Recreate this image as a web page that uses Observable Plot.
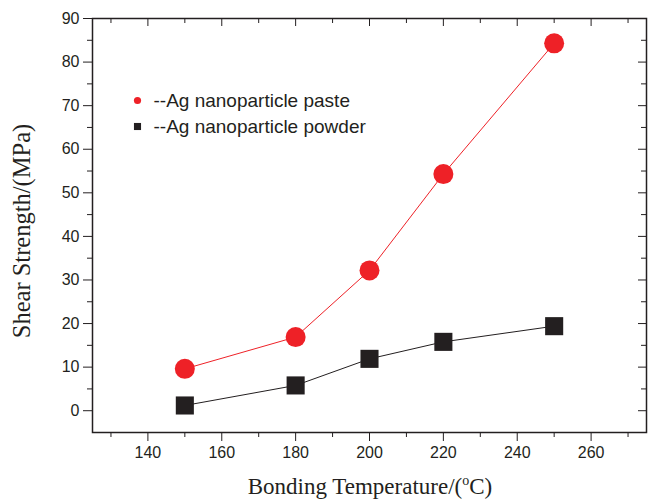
<!DOCTYPE html>
<html>
<head>
<meta charset="utf-8">
<script src="https://cdn.jsdelivr.net/npm/d3@7"></script>
<script src="https://cdn.jsdelivr.net/npm/@observablehq/plot@0.6"></script>
<style>
  html, body { margin: 0; padding: 0; background: #fff; }
  svg { display: block; }
</style>
</head>
<body>
<div id="chart"></div>
<script>
const temperatures = [150, 180, 200, 220, 250];
const pasteStrength = [9.6, 16.9, 32.2, 54.3, 84.3];
const powderStrength = [1.2, 5.8, 11.9, 15.8, 19.4];
const seriesNames = ["--Ag nanoparticle paste", "--Ag nanoparticle powder"];
const xMajorTicks = [140, 160, 180, 200, 220, 240, 260];
const xMinorTicks = [130, 150, 170, 190, 210, 230, 250, 270];
const yMajorTicks = [0, 10, 20, 30, 40, 50, 60, 70, 80, 90];
const yMinorTicks = [5, 15, 25, 35, 45, 55, 65, 75, 85];

const RED = "#ee2127";
const BLACK = "#231f20";
const W = 649, H = 499;
const mL = 92, mR = 3, mT = 18, mB = 67;
const plotW = W - mL - mR, plotH = H - mT - mB;

const paste = temperatures.map((t, i) => ({t, v: pasteStrength[i]}));
const powder = temperatures.map((t, i) => ({t, v: powderStrength[i]}));

const tickFont = {fontSize: 16, fontFamily: "Liberation Sans, Arial, sans-serif"};

const chart = Plot.plot({
  width: W, height: H,
  marginLeft: mL, marginRight: mR, marginTop: mT, marginBottom: mB,
  style: {background: "#fff", color: BLACK, fontFamily: "Liberation Sans, Arial, sans-serif"},
  x: {domain: [125, 275], axis: null},
  y: {domain: [-5, 90], axis: null},
  marks: [
    // bottom axis (outward)
    Plot.axisX({anchor: "bottom", ticks: xMajorTicks, tickSize: 9, tickPadding: 5, tickFormat: d => String(d), ...tickFont, stroke: BLACK, fill: BLACK, label: null}),
    Plot.axisX({anchor: "bottom", ticks: xMinorTicks, tickSize: 5, text: null, stroke: BLACK, label: null}),
    // left axis (outward)
    Plot.axisY({anchor: "left", ticks: yMajorTicks, tickSize: 9, tickPadding: 4, tickFormat: d => String(d), ...tickFont, stroke: BLACK, fill: BLACK, label: null}),
    Plot.axisY({anchor: "left", ticks: yMinorTicks, tickSize: 5, text: null, stroke: BLACK, label: null}),
    // top axis (inward)
    Plot.tickX(xMajorTicks, {x: d => d, insetBottom: plotH - 8, stroke: BLACK}),
    Plot.tickX(xMinorTicks, {x: d => d, insetBottom: plotH - 5, stroke: BLACK}),
    // right axis (inward)
    Plot.tickY(yMajorTicks, {y: d => d, insetLeft: plotW - 8, stroke: BLACK}),
    Plot.tickY(yMinorTicks, {y: d => d, insetLeft: plotW - 5, stroke: BLACK}),
    Plot.frame({stroke: BLACK, strokeWidth: 1.5}),
    // series
    Plot.line(paste, {x: "t", y: "v", stroke: RED, strokeWidth: 1}),
    Plot.line(powder, {x: "t", y: "v", stroke: BLACK, strokeWidth: 1}),
    Plot.dot(paste, {x: "t", y: "v", r: 10, fill: RED, stroke: null}),
    Plot.dot(powder, {x: "t", y: "v", r: 10.2, symbol: "square", fill: BLACK, stroke: null}),
    // legend
    Plot.dot([seriesNames[0]], {frameAnchor: "top-left", dx: 45, dy: 82, r: 3.6, fill: RED, stroke: null}),
    Plot.dot([seriesNames[1]], {frameAnchor: "top-left", dx: 45, dy: 108, r: 4, symbol: "square", fill: BLACK, stroke: null}),
    Plot.text([seriesNames[0]], {text: d => d, frameAnchor: "top-left", dx: 61, dy: 82, textAnchor: "start", lineAnchor: "middle", fontSize: 19, fill: BLACK}),
    Plot.text([seriesNames[1]], {text: d => d, frameAnchor: "top-left", dx: 61, dy: 108, textAnchor: "start", lineAnchor: "middle", fontSize: 19, fill: BLACK})
  ]
});

const svg = d3.select(chart);
// Y axis title
svg.append("text")
  .attr("transform", `translate(30,231) rotate(-90)`)
  .attr("text-anchor", "middle")
  .attr("font-family", "Liberation Serif, Times New Roman, serif")
  .attr("font-size", 24.5)
  .attr("fill", BLACK)
  .text("Shear Strength/(MPa)");
// X axis title with superscript o
const xt = svg.append("text")
  .attr("x", 370).attr("y", 494)
  .attr("text-anchor", "middle")
  .attr("font-family", "Liberation Serif, Times New Roman, serif")
  .attr("font-size", 23)
  .attr("fill", BLACK);
xt.append("tspan").text("Bonding Temperature/(");
xt.append("tspan").attr("font-size", 14).attr("dy", -9).text("o");
xt.append("tspan").attr("dy", 9).text("C)");

document.getElementById("chart").appendChild(chart);
</script>
</body>
</html>
